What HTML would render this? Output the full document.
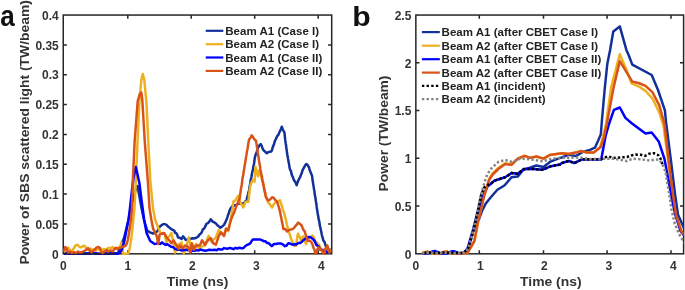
<!DOCTYPE html>
<html><head><meta charset="utf-8"><title>Figure</title>
<style>html,body{margin:0;padding:0;background:#fff}body{width:685px;height:290px;position:relative;overflow:hidden}</style>
</head><body>
<svg width="685" height="290" viewBox="0 0 685 290" style="position:absolute;left:0;top:0">
<defs><clipPath id="cl"><rect x="63.3" y="15" width="268.4" height="240"/></clipPath><clipPath id="cr"><rect x="415.9" y="15" width="267.7" height="240"/></clipPath></defs>
<path d="M63.8,253.6 L65.4,253.4 L67.0,252.8 L68.6,253.6 L70.2,253.5 L71.8,253.4 L73.4,253.9 L75.0,253.5 L76.6,253.3 L78.2,253.0 L79.8,254.0 L81.4,253.8 L83.0,254.0 L84.6,253.0 L86.2,253.2 L87.8,254.0 L89.4,252.6 L91.0,252.7 L92.6,253.3 L94.2,253.4 L95.8,253.9 L97.4,254.0 L99.0,253.5 L100.6,254.0 L102.2,253.9 L103.8,253.9 L105.4,254.0 L107.0,253.6 L108.6,253.6 L110.2,252.9 L111.8,253.5 L113.4,253.3 L115.0,253.5 L116.6,253.3 L118.2,253.6" fill="none" stroke="#12309a" stroke-width="2.5" stroke-linejoin="round" stroke-linecap="butt" clip-path="url(#cl)" />
<path d="M63.8,254.2 L65.4,253.4 L67.0,253.5 L68.6,253.8 L70.2,254.2 L71.8,253.2 L73.4,253.2 L75.0,253.8 L76.6,253.8 L78.2,254.1 L79.8,254.3 L81.4,254.0 L83.0,253.6 L84.6,254.3 L86.2,253.2 L87.8,254.1 L89.4,254.1 L91.0,254.3 L92.6,252.7 L94.2,253.3 L95.8,253.0 L97.4,253.6 L99.0,254.3 L100.6,254.0 L102.2,253.8 L103.8,254.2 L105.4,252.8 L107.0,254.0 L108.6,254.2 L110.2,253.1 L111.8,254.2 L113.4,252.9 L115.0,253.8 L116.6,253.7 L118.2,254.0" fill="none" stroke="#0000FF" stroke-width="2.5" stroke-linejoin="round" stroke-linecap="butt" clip-path="url(#cl)" />
<rect x="63.25" y="15.05" width="268.45" height="238.75" fill="none" stroke="#262626" stroke-width="1.5"/>
<rect x="415.85" y="15.05" width="267.75" height="238.75" fill="none" stroke="#262626" stroke-width="1.5"/>
<path d="M127.8,253.8 v-3.6 M127.8,15.05 v3.6" stroke="#262626" stroke-width="1.5"/>
<path d="M191.2,253.8 v-3.6 M191.2,15.05 v3.6" stroke="#262626" stroke-width="1.5"/>
<path d="M254.7,253.8 v-3.6 M254.7,15.05 v3.6" stroke="#262626" stroke-width="1.5"/>
<path d="M318.2,253.8 v-3.6 M318.2,15.05 v3.6" stroke="#262626" stroke-width="1.5"/>
<path d="M479.3,253.8 v-3.6 M479.3,15.05 v3.6" stroke="#262626" stroke-width="1.5"/>
<path d="M543.5,253.8 v-3.6 M543.5,15.05 v3.6" stroke="#262626" stroke-width="1.5"/>
<path d="M607.1,253.8 v-3.6 M607.1,15.05 v3.6" stroke="#262626" stroke-width="1.5"/>
<path d="M671.0,253.8 v-3.6 M671.0,15.05 v3.6" stroke="#262626" stroke-width="1.5"/>
<path d="M63.25,224.0 h3.6 M331.7,224.0 h-3.6" stroke="#262626" stroke-width="1.5"/>
<path d="M63.25,194.1 h3.6 M331.7,194.1 h-3.6" stroke="#262626" stroke-width="1.5"/>
<path d="M63.25,164.3 h3.6 M331.7,164.3 h-3.6" stroke="#262626" stroke-width="1.5"/>
<path d="M63.25,134.4 h3.6 M331.7,134.4 h-3.6" stroke="#262626" stroke-width="1.5"/>
<path d="M63.25,104.6 h3.6 M331.7,104.6 h-3.6" stroke="#262626" stroke-width="1.5"/>
<path d="M63.25,74.7 h3.6 M331.7,74.7 h-3.6" stroke="#262626" stroke-width="1.5"/>
<path d="M63.25,44.9 h3.6 M331.7,44.9 h-3.6" stroke="#262626" stroke-width="1.5"/>
<path d="M415.85,206.1 h3.6 M683.6,206.1 h-3.6" stroke="#262626" stroke-width="1.5"/>
<path d="M415.85,158.3 h3.6 M683.6,158.3 h-3.6" stroke="#262626" stroke-width="1.5"/>
<path d="M415.85,110.6 h3.6 M683.6,110.6 h-3.6" stroke="#262626" stroke-width="1.5"/>
<path d="M415.85,62.8 h3.6 M683.6,62.8 h-3.6" stroke="#262626" stroke-width="1.5"/>
<path d="M116.0,254.0 L118.0,253.0 L124.0,238.0 L128.0,222.0 L131.0,208.0 L134.0,195.0 L136.8,186.5 L137.6,186.0 L138.7,192.6 L141.5,208.0 L144.0,220.0 L147.3,230.8 L150.0,232.4 L153.1,233.5 L155.3,232.9 L157.5,231.0 L158.5,229.0 L159.4,227.2 L160.4,226.1 L163.5,223.9 L166.3,224.6 L167.8,226.3 L169.2,227.4 L170.9,228.9 L172.6,229.8 L174.3,230.7 L175.2,233.0 L176.2,233.1 L177.1,234.4 L178.0,237.3 L179.8,237.9 L181.6,239.0 L183.0,236.3 L184.2,237.6 L185.5,239.7 L186.7,239.9 L188.6,239.1 L190.4,238.9 L192.4,238.3 L194.4,238.4 L196.4,237.7 L198.4,236.4 L199.5,234.5 L200.6,233.8 L201.7,232.4 L202.8,229.3 L203.7,228.9 L204.6,227.7 L205.5,225.9 L206.4,223.8 L207.9,223.2 L209.3,221.6 L210.8,219.3 L212.5,221.5 L214.2,222.3 L215.9,223.5 L217.4,225.2 L218.8,226.4 L220.3,227.7 L221.5,226.9 L222.8,225.9 L224.0,224.9 L224.9,223.1 L225.8,221.3 L226.7,219.2 L227.6,216.7 L228.2,214.6 L228.8,213.3 L229.4,211.2 L230.0,209.5 L231.8,206.8 L233.5,205.2 L235.6,205.4 L237.6,204.1 L239.7,203.3 L242.3,204.2 L243.4,203.3 L244.5,202.8 L245.6,201.1 L246.7,200.3 L247.1,197.4 L247.6,196.0 L248.0,194.8 L248.4,192.5 L248.9,191.2 L249.3,189.1 L249.6,186.7 L249.9,184.9 L250.2,184.5 L250.5,181.5 L250.8,179.8 L251.1,178.3 L251.4,177.1 L251.7,175.6 L252.0,173.3 L252.4,171.5 L252.8,170.2 L253.2,167.7 L253.5,165.9 L253.9,164.4 L254.2,162.5 L254.5,159.8 L254.8,158.0 L255.2,156.1 L255.5,155.1 L256.1,153.5 L256.7,152.3 L257.2,150.4 L257.8,148.0 L258.4,147.2 L259.0,145.9 L260.7,144.1 L261.6,145.6 L262.5,148.2 L263.4,150.1 L265.1,151.7 L266.9,153.3 L268.2,152.1 L269.5,151.8 L271.3,151.5 L271.9,150.4 L272.6,147.8 L273.2,145.8 L273.9,144.8 L274.5,142.2 L275.2,140.3 L275.9,139.0 L276.5,137.6 L277.4,135.9 L278.3,134.9 L279.2,132.8 L280.1,130.9 L280.9,129.2 L281.8,126.7 L282.7,129.2 L283.5,130.8 L284.4,132.4 L284.6,134.2 L284.9,137.0 L285.1,138.7 L285.3,140.9 L285.6,142.3 L285.8,144.0 L286.1,145.2 L286.3,148.0 L286.5,148.8 L286.8,151.1 L287.0,152.5 L287.3,154.7 L287.7,156.5 L288.0,158.5 L288.4,160.8 L288.7,162.4 L289.0,163.9 L289.4,166.5 L289.7,168.4 L290.3,170.2 L290.9,170.8 L291.4,173.4 L292.0,175.6 L292.6,176.4 L293.2,178.1 L294.1,180.5 L294.9,181.4 L295.8,183.0 L296.7,185.2 L297.4,182.9 L298.1,181.1 L298.8,179.5 L299.5,178.1 L300.2,177.1 L300.9,174.8 L301.6,173.7 L302.3,170.9 L303.0,169.4 L303.7,168.2 L304.6,166.4 L305.5,164.9 L306.4,164.0 L307.3,164.5 L308.1,166.0 L309.0,167.3 L309.6,169.7 L310.2,171.2 L310.9,173.2 L311.5,174.3 L312.1,176.1 L312.4,178.4 L312.6,180.7 L312.9,181.7 L313.2,184.4 L313.5,185.6 L313.7,187.1 L314.0,189.4 L314.3,190.4 L314.6,192.7 L314.8,194.8 L315.1,196.1 L315.4,197.5 L315.6,199.0 L315.9,201.5 L316.2,202.7 L316.5,204.8 L316.7,206.9 L317.0,209.3 L317.3,210.7 L317.5,212.2 L317.8,214.5 L318.1,215.4 L318.4,217.3 L318.7,219.4 L319.1,220.9 L319.4,222.2 L319.7,224.2 L320.0,226.5 L320.4,227.5 L320.8,230.1 L321.2,231.1 L321.7,234.3 L322.1,235.9 L322.5,237.2 L323.2,239.9 L323.8,241.3 L324.5,241.9 L325.1,243.9 L325.8,246.0 L326.9,248.7 L328.0,249.5 L330.9,249.8 L331.5,251.0" fill="none" stroke="#12309a" stroke-width="2.5" stroke-linejoin="round" stroke-linecap="butt" clip-path="url(#cl)" />
<path d="M63.8,252.0 L66.0,250.0 L68.0,247.5 L70.0,250.0 L72.0,251.0 L74.0,248.0 L75.5,245.5 L77.5,244.7 L79.0,246.5 L81.0,247.5 L83.4,245.8 L85.0,246.2 L86.5,249.0 L88.5,250.0 L90.5,248.5 L92.5,250.0 L94.0,249.0 L96.0,250.5 L98.0,249.5 L100.5,248.5 L102.0,250.5 L104.0,249.0 L105.5,250.0 L107.5,248.5 L109.0,247.8 L110.8,248.5 L112.6,247.0 L114.5,248.5 L116.0,249.0 L118.0,248.0 L119.5,247.0 L120.5,246.0 L121.3,242.4 L122.0,247.0 L123.0,253.5 L125.0,253.8 L127.0,253.5 L128.3,253.0 L129.2,250.5 L130.0,247.0 L131.5,237.0 L132.7,226.0 L133.3,220.0 L134.5,208.0 L135.8,182.0 L137.5,142.0 L139.4,102.0 L141.3,80.0 L142.8,74.0 L144.3,80.0 L146.4,102.0 L148.3,142.0 L150.4,182.0 L153.0,208.0 L155.2,220.0 L157.5,225.7 L160.4,233.0 L164.8,233.7 L166.3,242.5 L167.7,238.8 L171.4,233.0 L173.6,243.2 L175.0,252.7 L178.0,244.7 L181.6,242.5 L183.8,253.4 L186.0,247.6 L188.9,237.4 L190.4,246.1 L193.0,248.0 L196.0,244.0 L199.0,249.0 L201.3,246.8 L205.0,245.4 L208.6,235.9 L211.5,241.7 L215.9,237.4 L218.8,230.0 L221.8,233.7 L224.0,236.0 L226.0,229.0 L228.3,231.0 L231.0,218.1 L231.3,216.3 L231.6,214.7 L231.8,212.2 L232.1,210.8 L232.4,209.2 L232.7,207.4 L232.9,204.6 L233.2,203.3 L233.5,201.4 L235.3,200.4 L236.2,199.5 L237.1,197.5 L238.0,195.9 L238.6,198.3 L239.2,199.7 L239.9,201.0 L240.5,202.8 L241.4,204.5 L242.3,205.4 L243.2,207.5 L244.1,205.6 L244.9,203.2 L245.8,201.7 L248.4,201.8 L248.6,199.6 L248.8,198.0 L249.0,195.6 L249.2,193.7 L249.4,193.1 L249.6,190.5 L249.8,188.7 L250.0,187.7 L250.2,185.8 L251.1,183.3 L251.9,181.8 L252.8,180.0 L254.6,181.7 L254.7,179.7 L254.8,178.6 L254.9,176.6 L255.0,175.0 L255.1,173.0 L255.2,171.2 L255.3,169.4 L255.4,168.7 L255.5,166.8 L255.9,168.2 L256.3,169.4 L256.7,171.1 L257.1,172.8 L257.6,174.8 L258.0,176.3 L258.4,174.8 L258.8,173.0 L259.1,171.3 L259.5,170.2 L260.0,171.9 L260.5,174.0 L261.0,175.8 L261.5,177.8 L262.0,179.9 L262.5,181.2 L263.0,182.7 L263.5,185.0 L263.9,186.6 L264.2,188.8 L264.6,189.7 L264.9,192.3 L265.3,193.0 L265.6,195.3 L266.0,196.9 L266.9,198.8 L267.7,201.5 L268.6,203.2 L269.8,204.1 L270.9,205.9 L272.1,207.5 L273.3,205.1 L274.4,203.4 L275.6,202.3 L277.8,201.6 L280.0,200.4 L280.6,202.3 L281.3,204.4 L282.0,206.0 L282.6,208.8 L283.1,210.6 L283.6,211.8 L284.2,212.9 L284.7,215.1 L285.2,217.4 L285.6,218.5 L286.0,220.0 L286.3,221.8 L286.7,224.2 L287.1,225.8 L287.6,227.1 L288.1,229.2 L288.6,231.0 L289.2,232.9 L289.7,234.5 L290.2,235.6 L290.7,237.8 L291.4,239.7 L292.2,241.3 L292.9,242.9 L293.7,244.5 L294.4,246.1 L295.9,245.8 L296.2,243.6 L296.6,241.8 L296.9,239.2 L297.3,237.1 L297.6,235.4 L298.0,233.8 L298.8,235.4 L299.5,236.6 L300.2,238.3 L301.0,240.8 L302.1,237.6 L303.2,236.4 L303.9,238.2 L304.6,240.0 L305.3,242.5 L306.0,244.1 L306.8,241.7 L307.5,241.2 L308.2,238.9 L309.0,237.9 L310.8,237.0 L312.6,235.5 L313.5,236.9 L314.3,238.4 L315.1,240.8 L316.0,242.3 L317.6,243.4 L319.2,244.9 L320.1,247.1 L321.1,249.5 L322.0,251.3 L323.5,249.9 L325.0,248.6 L326.0,249.8 L327.0,251.4 L328.0,251.9 L329.5,250.7 L331.0,250.0" fill="none" stroke="#EDB120" stroke-width="2.5" stroke-linejoin="round" stroke-linecap="butt" clip-path="url(#cl)" />
<path d="M116.0,254.2 L118.4,253.5 L120.0,252.5 L122.0,249.4 L124.3,241.2 L127.2,226.0 L128.5,220.0 L130.0,208.0 L132.0,190.0 L133.5,178.0 L135.8,167.0 L137.0,172.0 L138.7,180.0 L139.4,183.0 L141.5,200.0 L144.2,220.0 L146.6,233.0 L150.2,241.0 L154.6,244.0 L156.4,243.6 L158.3,243.0 L160.2,244.0 L162.0,242.4 L163.8,243.8 L165.6,244.9 L167.4,244.2 L169.2,245.5 L171.1,246.8 L173.1,247.1 L175.0,248.8 L177.2,249.7 L179.4,249.7 L181.6,250.5 L183.8,250.0 L185.6,250.0 L187.5,249.8 L189.3,250.4 L191.1,251.0 L192.9,250.5 L194.8,250.7 L196.6,250.1 L198.4,250.6 L200.2,249.6 L202.1,249.9 L203.9,250.6 L205.7,250.7 L207.5,250.3 L209.3,249.8 L211.2,250.1 L213.0,250.0 L214.8,249.8 L216.7,250.2 L218.5,248.9 L220.3,249.6 L222.2,249.5 L224.1,248.1 L226.0,248.6 L227.9,248.7 L229.8,247.9 L231.7,248.5 L233.6,249.2 L235.5,247.8 L237.4,248.5 L239.3,247.7 L241.8,248.4 L243.6,248.0 L245.4,246.0 L247.3,244.8 L249.1,244.0 L250.3,243.3 L251.6,241.0 L252.8,239.6 L255.3,239.5 L257.9,239.5 L259.8,239.4 L261.8,240.1 L263.7,241.2 L265.3,241.2 L266.9,242.9 L268.6,243.1 L270.2,244.7 L271.8,246.1 L274.0,244.0 L276.1,244.0 L278.3,243.4 L280.5,243.4 L282.7,244.3 L284.9,246.2 L286.6,245.5 L288.3,243.3 L290.0,243.5 L292.2,244.7 L294.4,244.3 L296.3,244.4 L298.3,243.0 L300.2,243.0 L301.7,242.0 L303.1,240.4 L304.6,239.2 L306.6,237.4 L308.5,237.1 L310.5,237.2 L311.9,238.2 L313.4,239.4 L314.9,241.5 L316.3,244.7 L317.5,245.7 L318.8,246.5 L320.0,249.5 L321.8,249.8 L323.6,251.1 L325.4,251.1 L327.2,251.9 L329.1,252.0 L330.9,252.7" fill="none" stroke="#0000FF" stroke-width="2.5" stroke-linejoin="round" stroke-linecap="butt" clip-path="url(#cl)" />
<path d="M63.8,251.0 L65.3,247.0 L66.5,248.5 L68.2,252.5 L70.0,251.5 L72.0,253.0 L74.0,252.0 L76.0,253.0 L78.0,251.5 L80.0,252.5 L82.0,252.0 L84.0,251.0 L86.0,250.0 L88.0,248.2 L89.5,250.0 L91.5,252.3 L93.0,251.0 L95.0,249.5 L96.5,247.5 L98.5,247.0 L100.0,248.0 L101.0,252.0 L102.5,253.0 L104.5,251.5 L106.7,250.0 L108.5,251.5 L110.5,250.5 L112.5,251.5 L114.0,249.5 L116.0,247.8 L117.5,249.0 L119.0,248.0 L120.7,247.6 L122.5,247.0 L124.0,246.5 L125.4,245.9 L126.8,243.5 L127.8,240.0 L129.0,233.0 L130.0,226.0 L131.0,220.0 L132.0,208.0 L132.8,182.0 L134.6,142.0 L137.7,101.0 L139.8,94.0 L141.3,92.5 L142.3,100.0 L144.8,142.0 L147.9,182.0 L149.5,208.0 L151.4,220.0 L153.1,228.6 L156.8,236.0 L158.2,244.0 L159.7,234.4 L164.0,233.0 L167.0,238.0 L169.2,240.3 L171.4,243.2 L173.6,240.3 L176.5,245.4 L178.7,249.0 L180.0,245.4 L182.3,248.3 L185.3,245.4 L188.2,246.8 L190.4,252.7 L191.8,243.2 L194.0,249.8 L196.2,245.4 L199.9,245.4 L202.0,240.3 L205.0,244.7 L207.9,240.3 L210.8,238.0 L213.0,243.2 L215.9,244.7 L218.8,235.9 L221.0,232.2 L224.0,235.9 L226.1,228.6 L228.3,230.0 L230.5,221.3 L231.8,217.5 L232.6,215.7 L233.4,213.8 L234.1,212.6 L234.8,210.3 L235.5,208.7 L236.2,206.1 L236.9,204.9 L237.6,203.5 L238.3,201.3 L239.0,200.1 L239.7,198.3 L240.0,195.9 L240.2,193.7 L240.5,192.9 L240.7,190.4 L241.0,188.5 L241.3,187.6 L241.5,186.0 L241.8,184.2 L242.0,182.6 L242.3,179.9 L242.6,178.0 L242.9,176.3 L243.2,175.6 L243.5,172.8 L243.8,171.1 L244.1,169.2 L244.4,167.5 L244.7,165.6 L245.0,164.1 L245.3,162.0 L245.6,160.3 L245.8,159.1 L246.1,156.4 L246.4,155.3 L246.7,153.3 L247.0,151.2 L247.4,149.4 L247.7,147.8 L248.0,145.7 L248.3,143.4 L248.7,141.7 L249.0,139.7 L249.9,138.4 L250.7,137.6 L251.6,135.4 L252.6,136.3 L253.7,138.2 L254.8,139.9 L256.0,140.7 L256.3,142.8 L256.5,143.8 L256.8,145.5 L257.1,148.0 L257.3,149.0 L257.6,151.1 L257.8,152.9 L258.1,154.4 L258.4,156.1 L258.7,158.0 L259.0,161.0 L259.4,162.6 L259.7,164.8 L260.0,166.1 L260.3,168.5 L260.6,170.2 L260.9,171.7 L261.2,173.3 L261.6,175.0 L261.9,176.5 L262.2,178.4 L262.5,180.6 L262.9,181.7 L263.2,184.2 L263.6,185.6 L263.9,187.4 L264.2,189.4 L264.6,191.0 L264.9,192.1 L265.3,194.0 L265.6,195.5 L266.0,197.2 L267.3,199.6 L268.6,200.5 L270.4,199.2 L272.1,197.2 L273.6,197.8 L275.0,199.8 L276.5,200.9 L277.1,202.3 L277.8,203.8 L278.5,206.1 L279.1,207.9 L279.6,210.0 L280.0,211.6 L280.5,214.3 L280.9,216.4 L281.2,217.3 L281.6,219.8 L281.9,221.4 L282.3,223.1 L282.7,225.4 L283.0,226.6 L283.4,229.0 L285.2,229.1 L287.1,231.4 L289.3,230.0 L291.5,229.4 L292.9,229.0 L294.4,227.4 L295.6,225.9 L296.8,224.6 L298.0,222.7 L299.9,223.8 L301.7,225.5 L302.7,228.2 L303.6,230.1 L304.6,231.2 L305.2,233.2 L305.8,235.0 L306.3,237.3 L306.9,237.9 L307.5,240.7 L309.4,240.7 L311.2,241.8 L311.9,243.1 L312.6,244.9 L313.4,247.6 L314.1,249.0 L314.9,251.8 L315.6,253.8 L316.3,252.1 L317.1,249.6 L317.8,248.6 L318.5,247.4 L319.9,248.7 L321.4,250.0 L322.5,251.6 L323.6,254.0 L324.3,252.4 L325.0,249.9 L325.8,248.4 L326.5,247.3 L327.2,245.4 L327.8,246.8 L328.3,249.6 L328.8,251.0 L329.4,252.5 L331.6,250.5" fill="none" stroke="#D95319" stroke-width="2.5" stroke-linejoin="round" stroke-linecap="butt" clip-path="url(#cl)" />
<path d="M422.0,253.2 L430.0,253.0 L434.0,251.8 L439.0,253.0 L446.0,253.2 L453.6,251.8 L458.0,253.0 L463.3,253.0 L465.0,252.0 L467.5,249.0 L470.0,243.0 L473.0,232.0 L476.5,223.0 L478.7,220.0 L482.0,211.0 L485.7,203.6 L491.0,197.0 L497.4,189.7 L504.4,185.5 L509.2,180.0 L511.5,177.3 L517.7,176.6 L523.3,169.7 L530.0,167.8 L536.4,165.5 L543.4,166.9 L551.0,161.3 L560.0,157.9 L561.9,157.5 L568.8,154.7 L575.8,156.1 L582.7,152.0 L590.0,149.9 L594.9,147.7 L598.0,141.0 L600.8,134.5 L601.8,122.0 L604.6,90.0 L607.3,63.9 L610.1,50.0 L613.3,31.4 L619.8,26.4 L626.3,49.7 L628.6,55.0 L632.3,64.6 L651.7,75.0 L658.0,90.0 L664.9,110.3 L666.0,122.0 L671.1,162.0 L675.0,194.0 L678.0,214.8 L684.3,228.7" fill="none" stroke="#12309a" stroke-width="2.5" stroke-linejoin="round" stroke-linecap="butt" clip-path="url(#cr)" />
<path d="M422.0,253.3 L425.0,252.3 L427.5,251.6 L430.0,252.6 L434.0,253.4 L441.0,253.2 L444.0,252.0 L446.5,251.5 L449.0,252.6 L453.0,253.5 L459.0,253.2 L463.3,253.2 L467.5,252.8 L474.4,241.0 L478.0,222.0 L484.3,195.3 L487.9,183.0 L489.1,179.0 L492.7,173.3 L498.3,168.0 L505.2,163.3 L511.5,164.5 L517.7,158.6 L524.6,155.8 L530.2,157.9 L536.4,156.5 L543.4,158.6 L549.6,155.1 L561.9,153.3 L568.8,154.0 L575.8,152.6 L581.3,151.0 L586.9,152.6 L593.8,152.6 L600.0,147.0 L603.0,137.0 L606.0,124.0 L611.0,88.0 L619.8,54.2 L626.2,69.3 L631.6,83.3 L638.5,86.3 L645.5,90.9 L652.4,98.5 L659.3,112.4 L663.5,126.0 L667.8,158.0 L672.3,194.0 L675.5,214.8 L681.0,231.4 L684.5,235.0" fill="none" stroke="#EDB120" stroke-width="2.5" stroke-linejoin="round" stroke-linecap="butt" clip-path="url(#cr)" />
<path d="M422.0,253.2 L429.0,253.2 L432.0,251.6 L434.5,250.9 L437.0,251.8 L440.0,253.4 L447.0,253.3 L451.0,251.6 L453.6,251.2 L456.5,252.2 L459.0,253.3 L463.3,253.0 L467.5,248.6 L473.0,229.9 L476.5,216.0 L480.0,205.0 L484.0,194.0 L487.7,186.2 L490.7,184.0 L494.1,180.8 L505.2,177.3 L511.5,173.1 L517.7,173.8 L524.0,169.0 L533.0,169.0 L542.7,169.7 L551.0,166.2 L560.0,164.5 L561.9,163.0 L568.8,161.0 L574.4,163.0 L582.4,159.2 L588.3,159.4 L601.2,159.6 L605.6,136.0 L609.0,124.0 L613.9,109.9 L619.8,107.5 L625.4,117.9 L632.0,123.5 L645.5,133.4 L651.7,132.4 L658.7,141.4 L664.5,159.0 L671.7,198.0 L675.2,214.0 L680.6,231.0 L684.5,236.0" fill="none" stroke="#0000FF" stroke-width="2.5" stroke-linejoin="round" stroke-linecap="butt" clip-path="url(#cr)" />
<path d="M422.0,253.3 L425.0,252.3 L427.5,251.6 L430.0,252.6 L434.0,253.4 L441.0,253.2 L444.0,252.0 L446.5,251.5 L449.0,252.6 L453.0,253.5 L459.0,253.2 L463.3,253.2 L467.5,252.8 L474.4,241.0 L478.0,222.0 L484.3,195.3 L487.9,184.0 L489.1,180.0 L492.7,174.5 L498.3,169.0 L505.2,164.1 L511.5,164.8 L517.7,158.6 L524.6,155.8 L530.2,157.9 L536.4,156.5 L543.4,158.6 L549.6,155.1 L561.9,153.3 L568.8,154.0 L575.8,152.6 L581.3,151.0 L586.9,152.6 L593.8,152.6 L600.7,147.1 L604.0,137.0 L606.8,124.0 L613.5,88.0 L619.8,61.1 L632.3,81.6 L638.5,83.0 L645.5,85.8 L652.4,92.2 L659.3,105.4 L664.5,124.0 L668.4,158.0 L672.9,194.0 L676.0,214.8 L681.5,231.4 L684.5,235.0" fill="none" stroke="#D95319" stroke-width="2.5" stroke-linejoin="round" stroke-linecap="butt" clip-path="url(#cr)" />
<path d="M422.0,253.0 L430.0,252.6 L436.0,252.9 L444.0,252.5 L452.0,252.9 L458.0,253.0 L463.3,252.8 L467.9,249.0 L472.0,236.0 L475.9,220.0 L481.0,195.5 L484.0,187.8 L487.0,185.2 L490.7,183.8 L494.1,180.8 L505.2,177.3 L511.5,173.1 L517.7,173.8 L524.0,169.0 L533.0,169.0 L542.7,169.7 L551.0,166.2 L560.0,164.5 L561.9,163.0 L568.8,161.0 L574.4,163.0 L582.4,159.2 L588.3,159.4 L601.4,159.2 L604.3,157.7 L608.3,156.2 L612.7,158.0 L617.4,157.7 L622.0,157.3 L627.0,157.0 L631.2,155.5 L635.9,154.6 L640.7,154.8 L645.0,155.9 L649.4,153.7 L653.8,153.2 L658.2,155.1 L660.6,158.8 L662.5,164.5" fill="none" stroke="#000" stroke-width="2.5" stroke-linejoin="round" stroke-linecap="butt" clip-path="url(#cr)" stroke-dasharray="2.4 2.1" stroke-dashoffset="2.25"/>
<path d="M422.0,253.0 L430.0,252.6 L436.0,252.9 L444.0,252.5 L452.0,252.9 L458.0,253.0 L463.3,252.8 L467.8,249.0 L471.9,236.0 L475.6,220.0 L480.8,195.3 L484.6,182.0 L487.2,174.5 L491.4,168.3 L498.3,162.0 L505.2,160.0 L512.2,162.0 L520.5,158.6 L530.2,159.3 L542.7,161.3 L552.4,158.6 L560.0,157.9 L580.0,157.5 L589.6,159.2 L605.0,158.8 L613.0,158.6 L622.4,160.2 L627.0,161.0 L631.5,159.1 L636.3,158.8 L641.4,159.3 L645.8,160.0 L650.5,160.5 L655.3,159.5 L659.0,159.9 L662.1,163.5 L665.6,171.9 L667.7,185.7 L669.3,194.5 L671.5,209.2 L674.7,223.5 L679.0,233.9 L682.9,240.5 L684.5,243.0" fill="none" stroke="#858585" stroke-width="2.5" stroke-linejoin="round" stroke-linecap="butt" clip-path="url(#cr)" stroke-dasharray="2.4 2.1"/>
<text transform="translate(58.8,258.5) scale(0.97,1)" font-size="12.4" text-anchor="end" fill="#333333" font-family="Liberation Sans, sans-serif" font-weight="bold">0</text>
<text transform="translate(58.8,228.65625) scale(0.97,1)" font-size="12.4" text-anchor="end" fill="#333333" font-family="Liberation Sans, sans-serif" font-weight="bold">0.05</text>
<text transform="translate(58.8,198.8125) scale(0.97,1)" font-size="12.4" text-anchor="end" fill="#333333" font-family="Liberation Sans, sans-serif" font-weight="bold">0.1</text>
<text transform="translate(58.8,168.96875) scale(0.97,1)" font-size="12.4" text-anchor="end" fill="#333333" font-family="Liberation Sans, sans-serif" font-weight="bold">0.15</text>
<text transform="translate(58.8,139.125) scale(0.97,1)" font-size="12.4" text-anchor="end" fill="#333333" font-family="Liberation Sans, sans-serif" font-weight="bold">0.2</text>
<text transform="translate(58.8,109.28125000000001) scale(0.97,1)" font-size="12.4" text-anchor="end" fill="#333333" font-family="Liberation Sans, sans-serif" font-weight="bold">0.25</text>
<text transform="translate(58.8,79.43750000000001) scale(0.97,1)" font-size="12.4" text-anchor="end" fill="#333333" font-family="Liberation Sans, sans-serif" font-weight="bold">0.3</text>
<text transform="translate(58.8,49.593750000000014) scale(0.97,1)" font-size="12.4" text-anchor="end" fill="#333333" font-family="Liberation Sans, sans-serif" font-weight="bold">0.35</text>
<text transform="translate(58.8,19.75000000000001) scale(0.97,1)" font-size="12.4" text-anchor="end" fill="#333333" font-family="Liberation Sans, sans-serif" font-weight="bold">0.4</text>
<text transform="translate(63.3,270.1) scale(0.97,1)" font-size="12.4" text-anchor="middle" fill="#333333" font-family="Liberation Sans, sans-serif" font-weight="bold">0</text>
<text transform="translate(127.8,270.1) scale(0.97,1)" font-size="12.4" text-anchor="middle" fill="#333333" font-family="Liberation Sans, sans-serif" font-weight="bold">1</text>
<text transform="translate(192.3,270.1) scale(0.97,1)" font-size="12.4" text-anchor="middle" fill="#333333" font-family="Liberation Sans, sans-serif" font-weight="bold">2</text>
<text transform="translate(256.4,270.1) scale(0.97,1)" font-size="12.4" text-anchor="middle" fill="#333333" font-family="Liberation Sans, sans-serif" font-weight="bold">3</text>
<text transform="translate(321.3,270.1) scale(0.97,1)" font-size="12.4" text-anchor="middle" fill="#333333" font-family="Liberation Sans, sans-serif" font-weight="bold">4</text>
<text transform="translate(411.4,258.5) scale(0.97,1)" font-size="12.4" text-anchor="end" fill="#333333" font-family="Liberation Sans, sans-serif" font-weight="bold">0</text>
<text transform="translate(411.4,210.75) scale(0.97,1)" font-size="12.4" text-anchor="end" fill="#333333" font-family="Liberation Sans, sans-serif" font-weight="bold">0.5</text>
<text transform="translate(411.4,163.0) scale(0.97,1)" font-size="12.4" text-anchor="end" fill="#333333" font-family="Liberation Sans, sans-serif" font-weight="bold">1</text>
<text transform="translate(411.4,115.25000000000001) scale(0.97,1)" font-size="12.4" text-anchor="end" fill="#333333" font-family="Liberation Sans, sans-serif" font-weight="bold">1.5</text>
<text transform="translate(411.4,67.50000000000001) scale(0.97,1)" font-size="12.4" text-anchor="end" fill="#333333" font-family="Liberation Sans, sans-serif" font-weight="bold">2</text>
<text transform="translate(411.4,19.75000000000001) scale(0.97,1)" font-size="12.4" text-anchor="end" fill="#333333" font-family="Liberation Sans, sans-serif" font-weight="bold">2.5</text>
<text transform="translate(415.8,270.1) scale(0.97,1)" font-size="12.4" text-anchor="middle" fill="#333333" font-family="Liberation Sans, sans-serif" font-weight="bold">0</text>
<text transform="translate(480.3,270.1) scale(0.97,1)" font-size="12.4" text-anchor="middle" fill="#333333" font-family="Liberation Sans, sans-serif" font-weight="bold">1</text>
<text transform="translate(544.4,270.1) scale(0.97,1)" font-size="12.4" text-anchor="middle" fill="#333333" font-family="Liberation Sans, sans-serif" font-weight="bold">2</text>
<text transform="translate(608.9,270.1) scale(0.97,1)" font-size="12.4" text-anchor="middle" fill="#333333" font-family="Liberation Sans, sans-serif" font-weight="bold">3</text>
<text transform="translate(673.4,270.1) scale(0.97,1)" font-size="12.4" text-anchor="middle" fill="#333333" font-family="Liberation Sans, sans-serif" font-weight="bold">4</text>
<text transform="translate(197.5,286.3) scale(1.015,1)" font-size="13.7" text-anchor="middle" fill="#333333" font-family="Liberation Sans, sans-serif" font-weight="bold">Time (ns)</text>
<text transform="translate(550.8,286.3) scale(1.015,1)" font-size="13.7" text-anchor="middle" fill="#333333" font-family="Liberation Sans, sans-serif" font-weight="bold">Time (ns)</text>
<text transform="translate(29.1,264.6) rotate(-90) scale(1.014,1)" font-size="13.7" text-anchor="start" fill="#333333" font-family="Liberation Sans, sans-serif" font-weight="bold">Power of SBS scattered light (TW/beam)</text>
<text transform="translate(387.7,133.5) rotate(-90) scale(1.01,1)" font-size="13.7" text-anchor="middle" fill="#333333" font-family="Liberation Sans, sans-serif" font-weight="bold">Power (TW/beam)</text>
<text transform="translate(0.3,26.4) scale(0.9,1)" font-size="29" text-anchor="start" fill="#111" font-family="Liberation Sans, sans-serif" font-weight="bold">a</text>
<text transform="translate(352.3,26.4) scale(1.06,1)" font-size="28.5" text-anchor="start" fill="#111" font-family="Liberation Sans, sans-serif" font-weight="bold">b</text>
<path d="M205.7,30.8 H223.3" stroke="#12309a" stroke-width="2.2" />
<text transform="translate(225.3,34.8) scale(1.03,1)" font-size="11.2" text-anchor="start" fill="#222" font-family="Liberation Sans, sans-serif" font-weight="bold">Beam A1 (Case I)</text>
<path d="M205.7,44.2 H223.3" stroke="#EDB120" stroke-width="2.2" />
<text transform="translate(225.3,48.2) scale(1.03,1)" font-size="11.2" text-anchor="start" fill="#222" font-family="Liberation Sans, sans-serif" font-weight="bold">Beam A2 (Case I)</text>
<path d="M205.7,57.5 H223.3" stroke="#0000FF" stroke-width="2.2" />
<text transform="translate(225.3,61.5) scale(1.03,1)" font-size="11.2" text-anchor="start" fill="#222" font-family="Liberation Sans, sans-serif" font-weight="bold">Beam A1 (Case II)</text>
<path d="M205.7,70.9 H223.3" stroke="#D95319" stroke-width="2.2" />
<text transform="translate(225.3,74.9) scale(1.03,1)" font-size="11.2" text-anchor="start" fill="#222" font-family="Liberation Sans, sans-serif" font-weight="bold">Beam A2 (Case II)</text>
<path d="M421.9,32.1 H439.8" stroke="#12309a" stroke-width="2.2" />
<text transform="translate(441.6,36.1) scale(1.03,1)" font-size="11.2" text-anchor="start" fill="#222" font-family="Liberation Sans, sans-serif" font-weight="bold">Beam A1 (after CBET Case I)</text>
<path d="M421.9,45.7 H439.8" stroke="#EDB120" stroke-width="2.2" />
<text transform="translate(441.6,49.7) scale(1.03,1)" font-size="11.2" text-anchor="start" fill="#222" font-family="Liberation Sans, sans-serif" font-weight="bold">Beam A2 (after CBET Case I)</text>
<path d="M421.9,59.2 H439.8" stroke="#0000FF" stroke-width="2.2" />
<text transform="translate(441.6,63.2) scale(1.03,1)" font-size="11.2" text-anchor="start" fill="#222" font-family="Liberation Sans, sans-serif" font-weight="bold">Beam A1 (after CBET Case II)</text>
<path d="M421.9,72.6 H439.8" stroke="#D95319" stroke-width="2.2" />
<text transform="translate(441.6,76.6) scale(1.03,1)" font-size="11.2" text-anchor="start" fill="#222" font-family="Liberation Sans, sans-serif" font-weight="bold">Beam A2 (after CBET Case II)</text>
<path d="M421.9,85.8 H439.8" stroke="#000" stroke-width="2.2" stroke-dasharray="2.4 2.25"/>
<text transform="translate(441.6,89.8) scale(1.03,1)" font-size="11.2" text-anchor="start" fill="#222" font-family="Liberation Sans, sans-serif" font-weight="bold">Beam A1 (incident)</text>
<path d="M421.9,99.2 H439.8" stroke="#858585" stroke-width="2.2" stroke-dasharray="2.4 2.25"/>
<text transform="translate(441.6,103.2) scale(1.03,1)" font-size="11.2" text-anchor="start" fill="#222" font-family="Liberation Sans, sans-serif" font-weight="bold">Beam A2 (incident)</text>
</svg>
</body></html>
